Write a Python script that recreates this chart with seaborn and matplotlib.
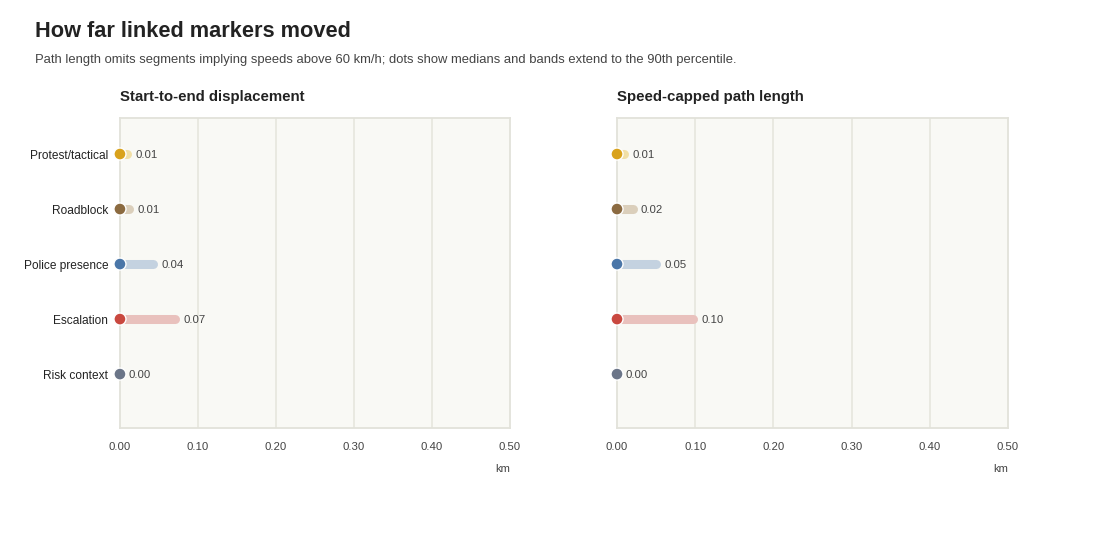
import matplotlib
matplotlib.use("Agg")
import matplotlib.pyplot as plt
import pandas as pd
import seaborn as sns

categories = ["Protest/tactical", "Roadblock", "Police presence", "Escalation", "Risk context"]
dot_colors = ["#d9a21b", "#8b6a40", "#4a76a8", "#c9483f", "#6b7588"]
band_colors = ["#f1dfa6", "#dbcfbb", "#c4d2e0", "#e9c1bd", "#d3d7de"]

displacement_median = [0.0, 0.0, 0.0, 0.0, 0.0]
displacement_p90 = [0.009, 0.0115, 0.043, 0.071, 0.0]
path_median = [0.0, 0.0, 0.0, 0.0, 0.0]
path_p90 = [0.009, 0.020, 0.050, 0.097, 0.0]

panel_titles = ["Start-to-end displacement", "Speed-capped path length"]
x_ticks = [0.0, 0.1, 0.2, 0.3, 0.4, 0.5]

TEXT = "#222222"
GREY = "#444444"


def _panel(ax, medians, p90s, title, show_labels):
    df = pd.DataFrame({"category": categories, "median": medians, "p90": p90s})
    df["pos"] = range(len(df))
    ax.set_facecolor("#f9f9f5")
    for x in x_ticks[1:-1]:
        ax.axvline(x, color="#e6e6de", lw=1.2, zorder=0)
    for row in df.itertuples():
        ax.plot([row.median, row.p90], [row.pos, row.pos], color=band_colors[row.pos],
                lw=6.5, solid_capstyle="round", zorder=2)
        ax.annotate(f"{row.p90:.2f}", xy=(row.p90, row.pos), xytext=(6, -0.5),
                    textcoords="offset points", va="center", ha="left",
                    fontsize=8.2, color=GREY)
    sns.scatterplot(data=df, x="median", y="pos", hue="category", palette=dot_colors,
                    s=75, edgecolor="white", linewidth=1.0, legend=False, ax=ax,
                    zorder=3, clip_on=False)
    ax.set_xlim(0, 0.5)
    ax.set_ylim(4.98, -0.655)
    ax.set_xticks(x_ticks)
    ax.set_xticklabels([f"{t:.2f}" for t in x_ticks], fontsize=8.2, color=GREY)
    ax.set_yticks(df["pos"])
    ax.set_yticklabels(categories if show_labels else [""] * len(categories),
                       fontsize=8.6, color=TEXT)
    ax.tick_params(axis="both", length=0)
    ax.tick_params(axis="x", pad=10)
    ax.tick_params(axis="y", pad=8.5)
    ax.set_xlabel("km", fontsize=8, color=GREY, loc="right", labelpad=9)
    ax.set_ylabel("")
    ax.grid(False)
    for spine in ax.spines.values():
        spine.set_visible(True)
        spine.set_color("#e2e2da")
        spine.set_linewidth(1.3)
    ax.set_title(title, loc="left", fontsize=10.8, fontweight="bold", color=TEXT, pad=12)


sns.set_theme(style="white")
plt.rcParams["font.family"] = ["Liberation Sans", "DejaVu Sans"]

fig = plt.figure(figsize=(11.2, 5.6), dpi=100)
ax_left = fig.add_axes([0.1071, 0.2357, 0.3482, 0.5536])
ax_right = fig.add_axes([0.5509, 0.2357, 0.3491, 0.5536])

_panel(ax_left, displacement_median, displacement_p90, panel_titles[0], True)
_panel(ax_right, path_median, path_p90, panel_titles[1], False)

fig.text(0.031, 0.943, "How far linked markers moved", fontsize=15.7, fontweight="bold",
         color=TEXT, va="center")
fig.text(0.031, 0.893,
         "Path length omits segments implying speeds above 60 km/h; dots show medians and bands extend to the 90th percentile.",
         fontsize=9.4, color=GREY, va="center")

fig.savefig("out.png", dpi=100)
